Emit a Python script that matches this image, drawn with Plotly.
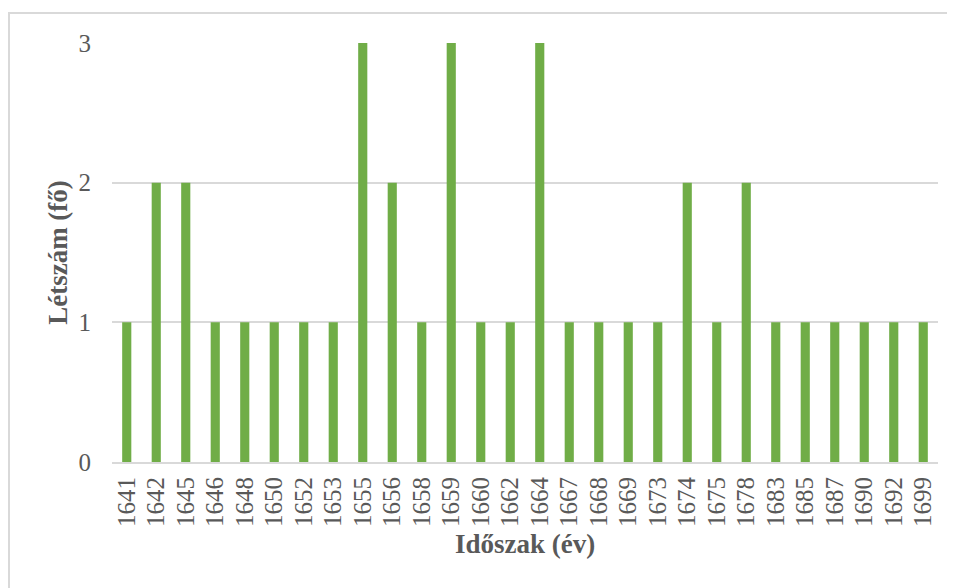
import plotly.graph_objects as go

years = ["1641","1642","1645","1646","1648","1650","1652","1653","1655","1656",
         "1658","1659","1660","1662","1664","1667","1668","1669","1673","1674",
         "1675","1678","1683","1685","1687","1690","1692","1699"]
counts = [1,2,2,1,1,1,1,1,3,2,1,3,1,1,3,1,1,1,1,2,1,2,1,1,1,1,1,1]
y_ticks = [0, 1, 2, 3]

FONT = "Liberation Serif"
GRAY = "#595959"

fig = go.Figure(go.Bar(x=years, y=counts, marker_color="#70AD47", marker_line_width=0))

# page is offset by 8px body margin
L, R, T, B = 104, 17, 35, 126
W, H = 947, 580
pw, ph = W - L - R, H - T - B

fig.update_layout(
    width=W, height=H,
    margin=dict(l=L, r=R, t=T, b=B, autoexpand=False),
    plot_bgcolor="white", paper_bgcolor="white",
    bargap=0.69,
    showlegend=False,
    font=dict(family=FONT, color=GRAY, size=25),
    xaxis=dict(type="category", tickangle=-90, showgrid=False,
               tickmode="array", tickvals=years, ticktext=years,
               showline=True, linecolor="#D9D9D9", linewidth=2,
               ticklabelstandoff=3,
               tickfont=dict(size=25, family=FONT, color=GRAY),
               title=dict(text="<b>Időszak (év)</b>", font=dict(size=27, family=FONT, color=GRAY), standoff=8)),
    yaxis=dict(range=[0, 3], tickvals=y_ticks, showgrid=True, gridcolor="#D9D9D9", gridwidth=2,
               zeroline=False, ticks="", ticklen=0, ticklabelstandoff=20,
               tickfont=dict(size=25, family=FONT, color=GRAY),
               title=dict(text="<b>Létszám (fő)</b>", font=dict(size=27, family=FONT, color=GRAY), standoff=3)),
    shapes=[dict(type="rect", xref="paper", yref="paper",
                 x0=(1 - L) / pw, x1=(970 - L) / pw,
                 y0=(ph + T - 600) / ph, y1=(ph + T - 5) / ph,
                 line=dict(color="#D9D9D9", width=2), fillcolor="rgba(0,0,0,0)", layer="below")],
)

fig.write_html("out.html")
